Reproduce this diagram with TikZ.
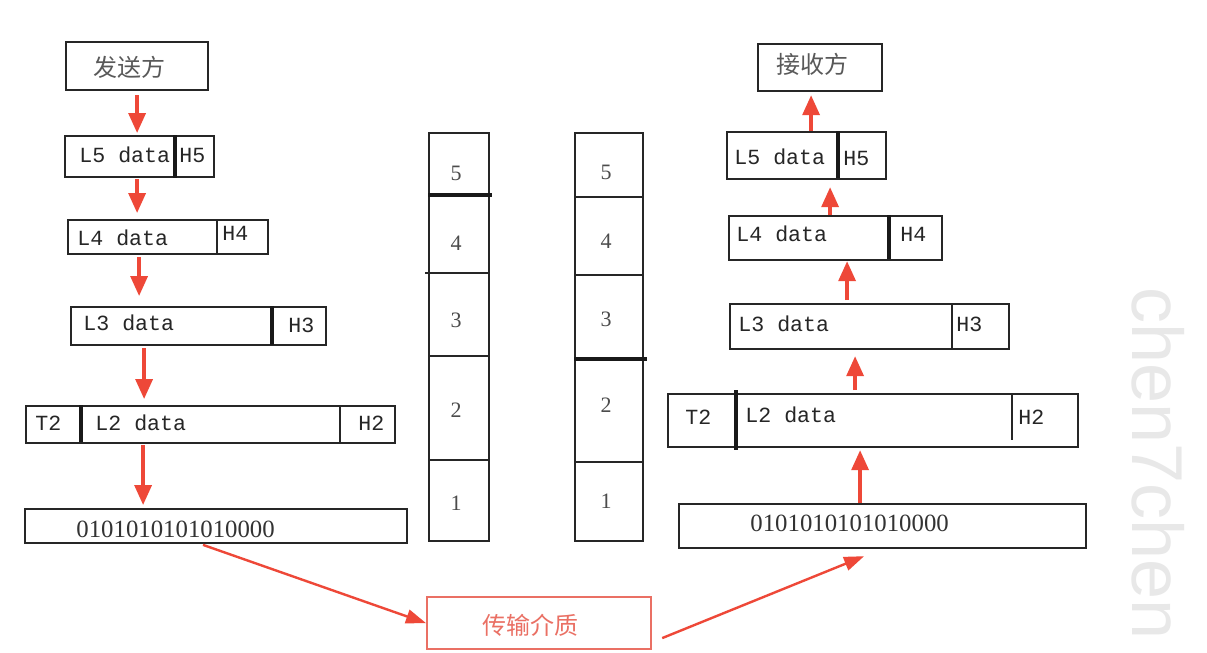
\documentclass[tikz,border=0pt]{standalone}
\usepackage{fontspec}
\setmainfont{Liberation Serif}
\setmonofont{Liberation Mono}
\newfontfamily\cjk{Noto Sans CJK SC}
\newfontfamily\wmfont{Liberation Sans}
\usepackage{tikz}
\usetikzlibrary{arrows.meta, positioning}
\definecolor{arrowred}{RGB}{238,72,56}
\definecolor{boxred}{RGB}{234,112,100}

\begin{document}
\begin{tikzpicture}[x=0.5pt,y=-0.5pt,
    pkt/.style={draw=black!85, line width=1.1pt, inner sep=0pt, anchor=north west},
    sep/.style={draw=black!85, line width=1.1pt},
    thicksep/.style={draw=black!90, line width=1.8pt},
    txt/.style={font=\ttfamily\fontsize{10.8}{12}\selectfont, text=black!85, inner sep=0pt, anchor=west},
    zh/.style={font=\cjk\fontsize{12}{14}\selectfont, text=black!65, inner sep=0pt, anchor=west},
    bits/.style={font=\fontsize{12.4}{14}\selectfont, text=black!80, inner sep=0pt, anchor=west},
    num/.style={font=\fontsize{11}{13}\selectfont, text=black!70, inner sep=0pt},
    flow/.style={draw=arrowred, line width=1.7pt, -{Triangle[width=8.5pt,length=10pt]}},
    wire/.style={draw=arrowred, line width=1.2pt, -{Triangle[width=7pt,length=10pt]}}]
    \path[use as bounding box, fill=white] (0,0) rectangle (1207,653);

    % sender side
    \node[pkt, minimum width=71pt, minimum height=24pt] (send) at (65,41) {};
    \node[pkt, minimum width=74.5pt, minimum height=20.5pt] (sL5) at (64,135) {};
    \node[pkt, minimum width=100pt, minimum height=17pt] (sL4) at (67,219) {};
    \node[pkt, minimum width=127.5pt, minimum height=19pt] (sL3) at (70,306) {};
    \node[pkt, minimum width=184.5pt, minimum height=18.5pt] (sL2) at (25,405) {};
    \node[pkt, minimum width=191pt, minimum height=17pt] (sbits) at (24,508) {};
    \draw[thicksep] (175,135) -- (175,178);
    \draw[sep] (217,219) -- (217,253);
    \draw[thicksep] (272,306) -- (272,345);
    \draw[thicksep] (81,405) -- (81,442);
    \draw[sep] (340,405) -- (340,442);
    \node[zh] (sendt) at (93,67) {发送方};
    \node[txt] (sL5t) at (79,155) {L5 data};
    \node[txt] (sH5) at (179,155) {H5};
    \node[txt] (sL4t) at (77,238) {L4 data};
    \node[txt] (sH4) at (222,233) {H4};
    \node[txt] (sL3t) at (83,323) {L3 data};
    \node[txt] (sH3) at (288,325) {H3};
    \node[txt] (sT2) at (35,423) {T2};
    \node[txt] (sL2t) at (95,423) {L2 data};
    \node[txt] (sH2) at (358,423) {H2};
    \node[bits] (sbitst) at (76,529) {0101010101010000};

    % the two layer stacks
    \node[pkt, minimum width=30pt, minimum height=204pt] (lstack) at (428,132) {};
    \node[pkt, minimum width=34pt, minimum height=204pt] (rstack) at (574,132) {};
    \draw[thicksep] (428,195) -- (492,195);
    \draw[sep] (425,273) -- (488,273);
    \draw[sep] (428,356) -- (488,356);
    \draw[sep] (428,460) -- (488,460);
    \draw[sep] (574,197) -- (644,197);
    \draw[sep] (574,275) -- (642,275);
    \draw[thicksep] (574,359) -- (647,359);
    \draw[sep] (574,462) -- (642,462);
    \foreach \n/\y in {5/173,4/243,3/320,2/410,1/503}
        \node[num] (l\n) at (456,\y) {\n};
    \foreach \n/\y in {5/172,4/241,3/319,2/405,1/501}
        \node[num] (r\n) at (606,\y) {\n};

    % receiver side
    \node[pkt, minimum width=62pt, minimum height=23.5pt] (recv) at (757,43) {};
    \node[pkt, minimum width=79.5pt, minimum height=23.5pt] (rL5) at (726,131) {};
    \node[pkt, minimum width=106.5pt, minimum height=22pt] (rL4) at (728,215) {};
    \node[pkt, minimum width=139.5pt, minimum height=22.5pt] (rL3) at (729,303) {};
    \node[pkt, minimum width=205pt, minimum height=26.5pt] (rL2) at (667,393) {};
    \node[pkt, minimum width=203.5pt, minimum height=22pt] (rbits) at (678,503) {};
    \draw[thicksep] (838,131) -- (838,178);
    \draw[thicksep] (889,215) -- (889,259);
    \draw[sep] (952,303) -- (952,348);
    \draw[thicksep] (736,390) -- (736,450);
    \draw[sep] (1012,393) -- (1012,440);
    \node[zh] (recvt) at (776,64) {接收方};
    \node[txt] (rL5t) at (734,157) {L5 data};
    \node[txt] (rH5) at (843,158) {H5};
    \node[txt] (rL4t) at (736,234) {L4 data};
    \node[txt] (rH4) at (900,234) {H4};
    \node[txt] (rL3t) at (738,324) {L3 data};
    \node[txt] (rH3) at (956,324) {H3};
    \node[txt] (rT2) at (685,417) {T2};
    \node[txt] (rL2t) at (745,415) {L2 data};
    \node[txt] (rH2) at (1018,417) {H2};
    \node[bits] (rbitst) at (750,523) {0101010101010000};

    % medium
    \node[pkt, draw=boxred, minimum width=112pt, minimum height=26pt] (medium) at (426,596) {};
    \node[zh, text=boxred] (mediumt) at (482,625) {传输介质};

    % watermark
    \node[font=\wmfont\fontsize{36}{40}\selectfont, text=black!9, inner sep=0pt,
          rotate=-90, anchor=base west] (mark) at (1132,287) {chen7chen};

    % encapsulation, going down
    \draw[flow, shorten <=2pt, shorten >=1pt] (send.south) -- ([xshift=-1.25pt]sL5.north);
    \draw[flow, shorten <=0.5pt, shorten >=3pt] ([xshift=-1.25pt]sL5.south) -- ([xshift=-15.5pt]sL4.north);
    \draw[flow, shorten <=1pt, shorten >=5pt] ([xshift=-14.5pt]sL4.south) -- ([xshift=-29.75pt]sL3.north);
    \draw[flow, shorten <=1pt, shorten >=3pt] ([xshift=-27.25pt]sL3.south) -- ([xshift=-33.25pt]sL2.north);
    \draw[flow, shorten <=0.5pt, shorten >=1.5pt] ([xshift=-33.75pt]sL2.south) -- ([xshift=-36.5pt]sbits.north);

    % decapsulation, going up
    \draw[flow, shorten >=1pt] ([xshift=-11.25pt]rbits.north) -- ([xshift=-6.5pt]rL2.south);
    \draw[flow, shorten <=1.5pt, shorten >=3pt] ([xshift=-9pt]rL2.north) -- ([xshift=-7.25pt]rL3.south);
    \draw[flow, shorten <=1.5pt] ([xshift=-11.25pt]rL3.north) -- ([xshift=5.75pt]rL4.south);
    \draw[flow, shorten >=3.5pt] ([xshift=-2.75pt]rL4.north) -- ([xshift=11.75pt]rL5.south);
    \draw[flow, shorten >=1.5pt] ([xshift=2.25pt]rL5.north) -- ([xshift=-4.5pt]recv.south);

    % over the medium
    \draw[wire, shorten <=1pt] ([xshift=-7.5pt]sbits.south) -- (medium.west);
    \draw[wire] ([xshift=5pt,yshift=-7.5pt]medium.east) -- ([xshift=-9.25pt,yshift=-3.5pt]rbits.south);
\end{tikzpicture}
\end{document}
